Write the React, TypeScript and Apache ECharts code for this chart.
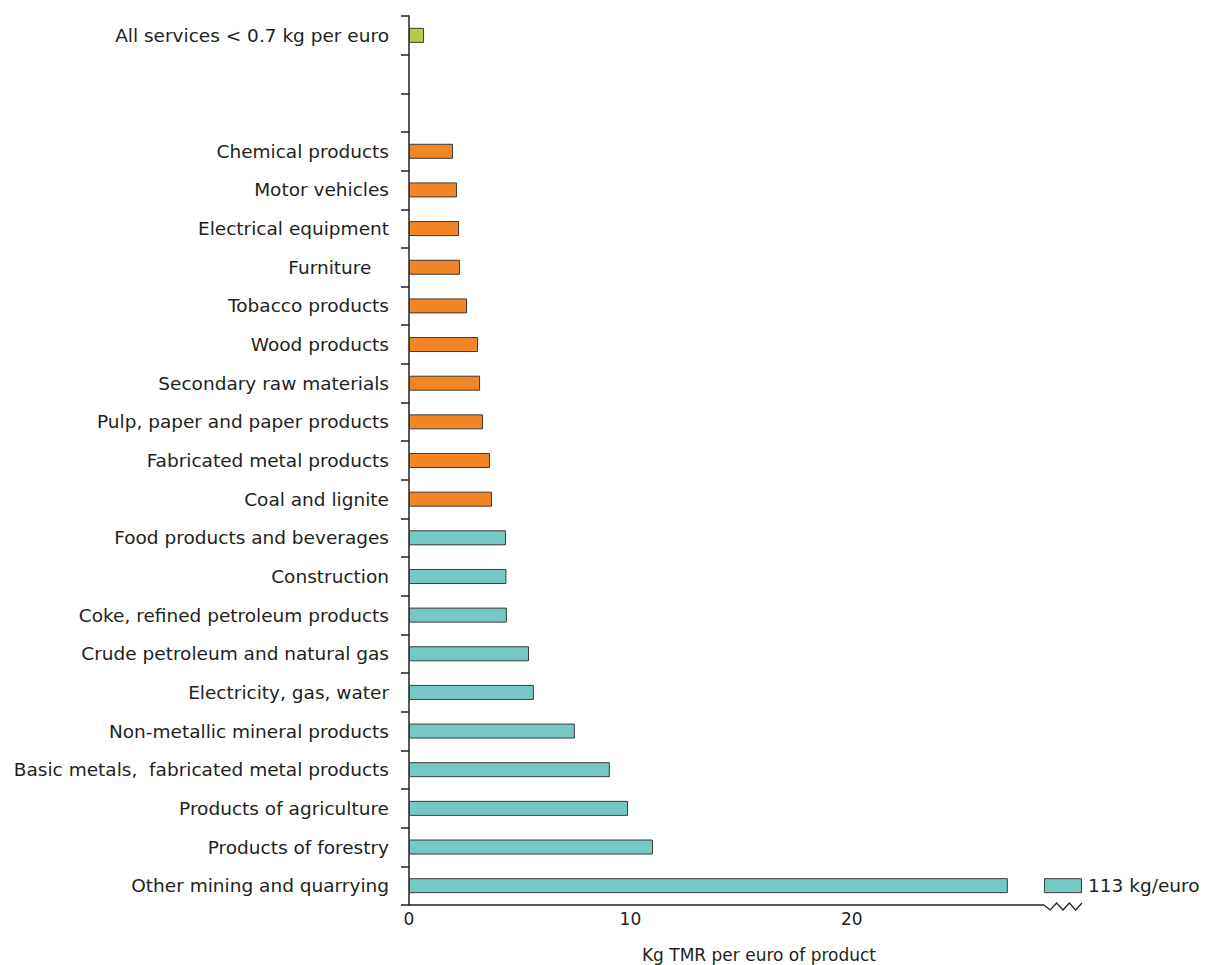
import React, { useEffect, useRef } from "react";
import * as echarts from "echarts";

const categories = [
  "All services < 0.7 kg per euro",
  " ",
  "  ",
  "Chemical products",
  "Motor vehicles",
  "Electrical equipment",
  "Furniture\u00a0\u00a0\u00a0",
  "Tobacco products",
  "Wood products",
  "Secondary raw materials",
  "Pulp, paper and paper products",
  "Fabricated metal products",
  "Coal and lignite",
  "Food products and beverages",
  "Construction",
  "Coke, refined petroleum products",
  "Crude petroleum and natural gas",
  "Electricity, gas, water",
  "Non-metallic mineral products",
  "Basic metals,  fabricated metal products",
  "Products of agriculture",
  "Products of forestry",
  "Other mining and quarrying",
];

// kg TMR per euro of product (null = empty slot)
const values: (number | null)[] = [
  0.68, null, null, 1.99, 2.17, 2.26, 2.3, 2.62, 3.12, 3.21, 3.34, 3.66, 3.75,
  4.38, 4.4, 4.42, 5.42, 5.64, 7.49, 9.07, 9.89, 11.02, 113,
];

const groups: (string | null)[] = [
  "services", null, null,
  "mid", "mid", "mid", "mid", "mid", "mid", "mid", "mid", "mid", "mid",
  "high", "high", "high", "high", "high", "high", "high", "high", "high", "high",
];

const groupColors: Record<string, string> = {
  services: "#b5cc47",
  mid: "#f28627",
  high: "#74c9c5",
};

const xTicks = [0, 10, 20];
const axisMax = 30.4;
const breakStart = 27.05;
const breakEnd = 28.68;
const axisTitle = "Kg TMR per euro of product";
const unitSuffix = " kg/euro";

const FONT = "'DejaVu Sans', Verdana, sans-serif";
const TEXT = "#231f20";

export default function App() {
  const ref = useRef<HTMLDivElement>(null);
  useEffect(() => {
    document.body.style.margin = "0";
    const chart = echarts.init(ref.current!, null, { renderer: "svg" });
    const isBroken = (v: number | null) => v != null && v > axisMax;
    const mainData = values.map((v, i) =>
      v == null
        ? "-"
        : {
            value: isBroken(v) ? breakStart : v,
            itemStyle: { color: groupColors[groups[i] as string] },
          }
    );
    const gapData = values.map((v) => (isBroken(v) ? breakEnd - breakStart : "-"));
    const tailData = values.map((v) => (isBroken(v) ? axisMax - breakEnd : "-"));
    const brokenColorIdx = values.findIndex((v) => isBroken(v));

    chart.setOption({
      animation: false,
      grid: { left: 409, right: 123, top: 16, bottom: 60, containLabel: false },
      xAxis: {
        type: "value",
        min: 0,
        max: axisMax,
        interval: 10,
        axisLine: { show: false },
        axisTick: { show: false },
        splitLine: { show: false },
        axisLabel: {
          fontFamily: FONT,
          fontSize: 17,
          color: TEXT,
          margin: 5,
          formatter: (v: number) => (xTicks.includes(v) ? String(v) : ""),
        },
      },
      yAxis: {
        type: "category",
        inverse: true,
        data: categories,
        axisLine: { show: true, lineStyle: { color: TEXT, width: 1.5 } },
        axisTick: { show: true, length: 8, lineStyle: { color: TEXT, width: 1.5 } },
        axisLabel: {
          fontFamily: FONT,
          fontSize: 18.5,
          color: TEXT,
          margin: 20,
        },
      },
      series: [
        {
          type: "bar",
          stack: "s",
          barWidth: 15,
          data: mainData,
          itemStyle: { borderColor: "#3a3a3a", borderWidth: 1 },
        },
        {
          type: "bar",
          stack: "s",
          barWidth: 15,
          data: gapData,
          itemStyle: { color: "rgba(0,0,0,0)" },
        },
        {
          type: "bar",
          stack: "s",
          barWidth: 15,
          data: tailData,
          itemStyle: {
            color: brokenColorIdx >= 0 ? groupColors[groups[brokenColorIdx] as string] : "#000",
            borderColor: "#3a3a3a",
            borderWidth: 1,
          },
          label: {
            show: true,
            position: "right",
            distance: 6,
            fontFamily: FONT,
            fontSize: 18.5,
            color: TEXT,
            formatter: (p: any) => `${values[p.dataIndex]}${unitSuffix}`,
          },
        },
      ],
    });

    const x0 = chart.convertToPixel({ xAxisIndex: 0 }, 0) as number;
    const xb = chart.convertToPixel({ xAxisIndex: 0 }, breakEnd) as number;
    const xe = chart.convertToPixel({ xAxisIndex: 0 }, axisMax) as number;
    const yb = 965 - 60;
    const zig: number[][] = [];
    const n = 6;
    for (let i = 0; i <= n; i++) {
      const x = xb + ((xe - xb) * i) / n;
      const y = i === 0 ? yb : i % 2 === 1 ? yb + 5 : yb - 2;
      zig.push([x, y]);
    }
    chart.setOption({
      graphic: [
        {
          type: "line",
          shape: { x1: x0, y1: yb, x2: xb, y2: yb },
          style: { stroke: TEXT, lineWidth: 1.5 },
        },
        {
          type: "polyline",
          shape: { points: zig },
          style: { stroke: TEXT, lineWidth: 1.2, fill: null },
        },
        {
          type: "text",
          x: 759,
          y: 955,
          style: {
            text: axisTitle,
            fontFamily: FONT,
            fontSize: 17,
            fill: TEXT,
            align: "center",
            verticalAlign: "middle",
          },
        },
      ],
    });

    return () => chart.dispose();
  }, []);
  return <div ref={ref} style={{ width: 1205, height: 965 }} />;
}
